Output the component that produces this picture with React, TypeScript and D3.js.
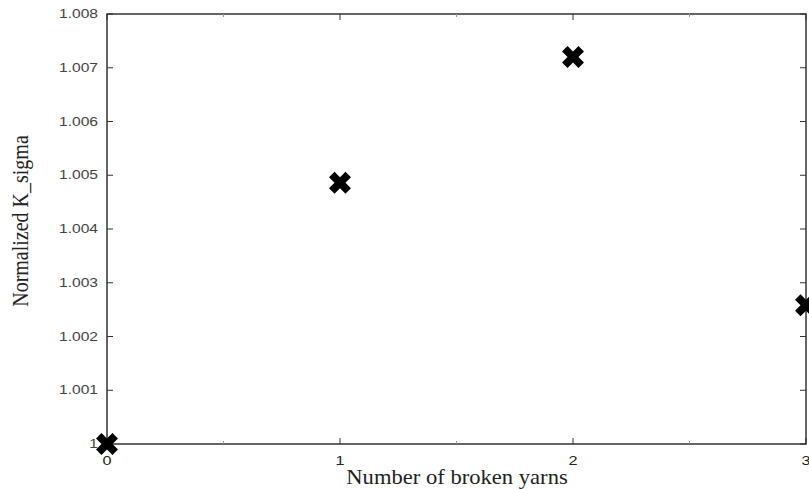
import React from 'react';
import * as d3 from 'd3';

const brokenYarns = [0, 1, 2, 3];
const kSigma = [1.0, 1.00486, 1.0072, 1.00258];
const yTicks = [1, 1.001, 1.002, 1.003, 1.004, 1.005, 1.006, 1.007, 1.008];
const xTicks = [0, 1, 2, 3];
const xMinorTicks = [0.5, 1.5, 2.5];

const W = 809;
const H = 489;
const margin = { top: 14, right: 3, bottom: 45, left: 107 };

const App: React.FC = () => {
  const x = d3.scaleLinear().domain([0, 3]).range([margin.left, W - margin.right]);
  const y = d3.scaleLinear().domain([1, 1.008]).range([H - margin.bottom, margin.top]);

  const x0 = x(0), x1 = x(3), y0 = y(1), y1 = y(1.008);
  const tick = 6;

  // rotated cross marker
  const marker = d3.symbol(d3.symbolCross, 300)();

  const fmt = (v: number) => (v === 1 ? '1' : d3.format('.3f')(v));

  // the source picture is stretched sideways, so text gets a horizontal scale
  const sansFont = '12px "Liberation Sans", Arial, sans-serif';
  const serifFont = '20px "Liberation Serif", "Times New Roman", serif';

  return (
    <svg width={W} height={H} style={{ position: 'absolute', left: 0, top: 0, background: '#fff' }}>
      {/* frame */}
      <rect x={x0} y={y1} width={x1 - x0} height={y0 - y1} fill="none" stroke="#333" strokeWidth={1.5} />

      {/* y ticks */}
      {yTicks.map(t => (
        <g key={'y' + t}>
          <line x1={x0} x2={x0 + tick} y1={y(t)} y2={y(t)} stroke="#333" strokeWidth={1} />
          <line x1={x1} x2={x1 - tick} y1={y(t)} y2={y(t)} stroke="#333" strokeWidth={1} />
          <g transform={`translate(${x0 - 9},${y(t)}) scale(1.3,1)`}>
            <text dy="0.35em" textAnchor="end" style={{ font: sansFont, fill: '#444' }}>
              {fmt(t)}
            </text>
          </g>
        </g>
      ))}

      {/* x ticks */}
      {xTicks.map(t => (
        <g key={'x' + t}>
          <line x1={x(t)} x2={x(t)} y1={y0} y2={y0 - tick} stroke="#333" strokeWidth={1} />
          <line x1={x(t)} x2={x(t)} y1={y1} y2={y1 + tick} stroke="#333" strokeWidth={1} />
          <g transform={`translate(${x(t)},${y0 + 16}) scale(1.25,1)`}>
            <text dy="0.35em" textAnchor="middle" style={{ font: '13px "Liberation Sans", Arial, sans-serif', fill: '#222' }}>
              {t}
            </text>
          </g>
        </g>
      ))}
      {xMinorTicks.map(t => (
        <g key={'m' + t}>
          <line x1={x(t)} x2={x(t)} y1={y0} y2={y0 - 3} stroke="#999" strokeWidth={1} />
          <line x1={x(t)} x2={x(t)} y1={y1} y2={y1 + 3} stroke="#999" strokeWidth={1} />
        </g>
      ))}

      {/* points */}
      {brokenYarns.map((n, i) => (
        <path key={'p' + n} d={marker ?? ''} fill="#000"
          transform={`translate(${x(n)},${y(kSigma[i])}) rotate(45)`} />
      ))}

      {/* axis titles */}
      <g transform={`translate(457,${H - 5}) scale(1.13,1)`}>
        <text textAnchor="middle" style={{ font: serifFont, fill: '#222' }}>
          Number of broken yarns
        </text>
      </g>
      <g transform={`translate(28,221) scale(1.13,1) rotate(-90)`}>
        <text textAnchor="middle" style={{ font: serifFont, fill: '#222' }}>
          Normalized K_sigma
        </text>
      </g>
    </svg>
  );
};

export default App;
